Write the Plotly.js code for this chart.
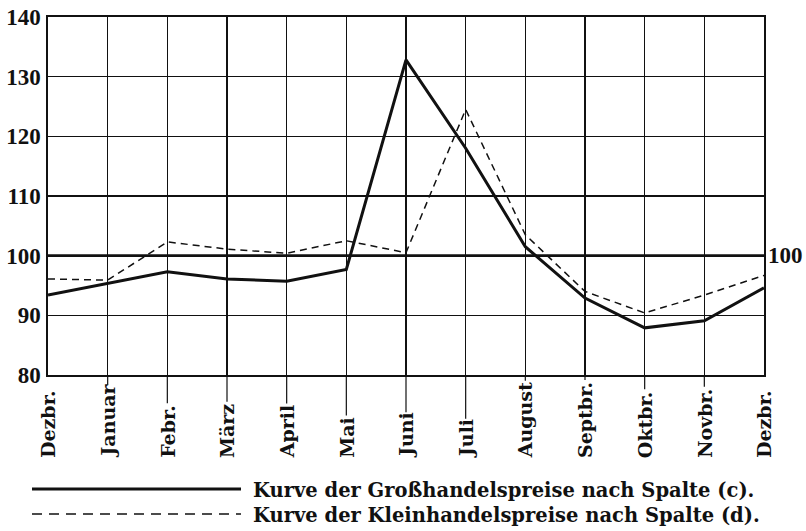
<!DOCTYPE html>
<html>
<head>
<meta charset="utf-8">
<script src="https://cdn.plot.ly/plotly-3.0.1.min.js"></script>
<style>html,body{margin:0;padding:0;background:#fff;}#chart{width:806px;height:531px;}</style>
</head>
<body>
<div id="chart"></div>
<script>
// ---- data ----
var months = ["Dezbr.", "Januar", "Febr.", "März", "April", "Mai", "Juni", "Juli", "August", "Septbr.", "Oktbr.", "Novbr.", "Dezbr."];
var grosshandel = [93.4, 95.4, 97.3, 96.1, 95.7, 97.7, 132.8, 118.0, 101.5, 92.9, 87.9, 89.1, 94.6];
var kleinhandel = [96.1, 95.9, 102.3, 101.1, 100.4, 102.5, 100.5, 124.5, 103.5, 94.0, 90.4, 93.4, 96.7];
var yTicks = [80, 90, 100, 110, 120, 130, 140];
var legendTexts = ["Kurve der Großhandelspreise nach Spalte (c).", "Kurve der Kleinhandelspreise nach Spalte (d)."];
var refValue = 100;

// ---- layout geometry ----
var W = 806, H = 531;
var M = {l: 48, r: 42, t: 17, b: 156};
var plotW = W - M.l - M.r, plotH = H - M.t - M.b;
function px2paperX(px) { return (px - M.l) / plotW; }
function px2paperY(py) { return (H - M.b - py) / plotH; }

var labelFontFamily = "DejaVu Serif";
var labelFontSize = 19;
var labelBottomPx = 459;

var xs = months.map(function (_, i) { return i; });

var traces = [
  {x: xs, y: kleinhandel, mode: "lines", line: {color: "#111", width: 1.5, dash: "7px,5px"}, name: legendTexts[1], hoverinfo: "skip"},
  {x: xs, y: grosshandel, mode: "lines", line: {color: "#111", width: 3}, name: legendTexts[0], hoverinfo: "skip"}
];

// measure label lengths to extend the vertical grid lines down to the label tops
var cv = document.createElement("canvas").getContext("2d");
cv.font = "bold " + labelFontSize + "px '" + labelFontFamily + "'";

var shapes = [];
var annotations = [];
months.forEach(function (m, i) {
  var len = cv.measureText(m).width;
  var topPx = labelBottomPx - len - 3;
  if (i > 0 && i < months.length - 1) {
    shapes.push({type: "line", xref: "x", yref: "paper", x0: i, x1: i, y0: 0, y1: px2paperY(topPx),
      line: {color: "#111", width: 1.2}});
  }
  annotations.push({x: i, xref: "x", y: px2paperY(labelBottomPx), yref: "paper", yanchor: "bottom", xanchor: "center",
    text: m, textangle: -90, showarrow: false, borderpad: 0,
    font: {family: labelFontFamily, size: labelFontSize, color: "#111", weight: "bold"}});
});

// thick reference line at 100
shapes.push({type: "line", xref: "paper", yref: "y", x0: 0, x1: 1, y0: refValue, y1: refValue, line: {color: "#111", width: 2.6}});
annotations.push({x: 1, xref: "paper", y: refValue, yref: "y", xanchor: "left", yanchor: "middle", xshift: 2,
  text: String(refValue), showarrow: false, font: {family: "Liberation Serif", size: 23, color: "#111", weight: "bold"}});

// legend drawn below the chart
var legendRowsPx = [489, 514];
var legendDash = ["solid", "10px,7px"];
var legendWidth = [3, 1.5];
legendTexts.forEach(function (t, k) {
  shapes.push({type: "line", xref: "paper", yref: "paper", x0: px2paperX(32), x1: px2paperX(241),
    y0: px2paperY(legendRowsPx[k]), y1: px2paperY(legendRowsPx[k]),
    line: {color: "#111", width: legendWidth[k], dash: legendDash[k]}});
  annotations.push({x: px2paperX(251), xref: "paper", y: px2paperY(legendRowsPx[k] + 1), yref: "paper",
    xanchor: "left", yanchor: "middle", text: t, showarrow: false,
    font: {family: labelFontFamily, size: 19.5, color: "#111", weight: "bold"}});
});

var layout = {
  width: W, height: H,
  margin: M,
  paper_bgcolor: "#fff", plot_bgcolor: "#fff",
  showlegend: false,
  xaxis: {range: [0, 12], tickvals: xs, showticklabels: false, showgrid: true, gridcolor: "#111", gridwidth: 1.2,
    zeroline: false, showline: true, linecolor: "#111", linewidth: 1.6, mirror: true, ticks: "", fixedrange: true},
  yaxis: {range: [80, 140], tickvals: yTicks, ticktext: yTicks.map(String), showgrid: true, gridcolor: "#111", gridwidth: 1.2,
    zeroline: false, showline: true, linecolor: "#111", linewidth: 1.6, mirror: true, ticks: "", ticklabelstandoff: 1,
    tickfont: {family: "Liberation Serif", size: 23, color: "#111", weight: "bold"}, fixedrange: true},
  shapes: shapes,
  annotations: annotations
};

Plotly.newPlot("chart", traces, layout, {staticPlot: true, displayModeBar: false});
</script>
</body>
</html>
